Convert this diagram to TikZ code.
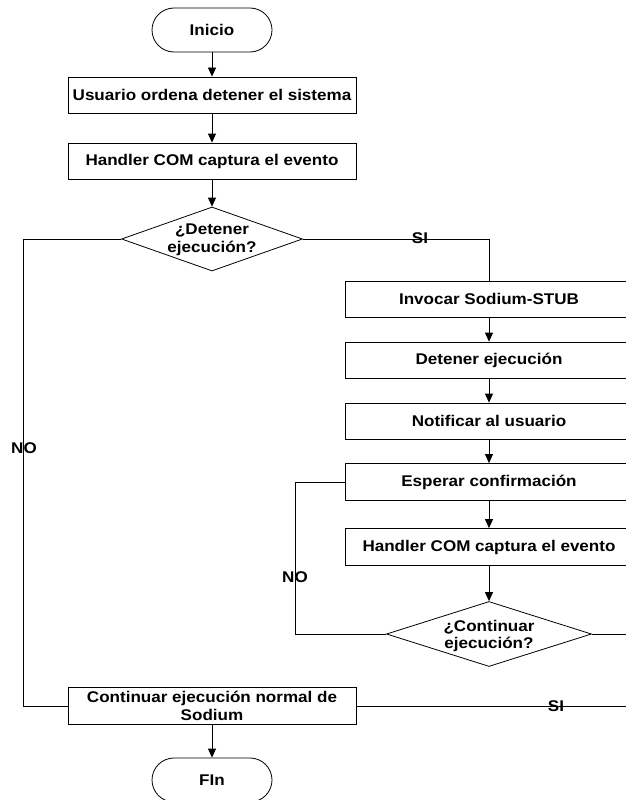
\documentclass[tikz,border=0pt]{standalone}
\usepackage{fontspec}
\setmainfont[FakeStretch=1.1]{Liberation Sans}
\usetikzlibrary{arrows.meta,shapes.geometric}
\begin{document}
\begin{tikzpicture}[x=1pt,y=-1pt,
  every node/.style={font=\fontsize{15.5}{17.5}\selectfont\bfseries, inner sep=0pt, align=center},
  box/.style={draw, line width=0.8pt, minimum width=288pt, minimum height=36pt},
  term/.style={draw, line width=0.8pt, rounded corners=22pt, minimum width=120pt, minimum height=44pt},
  dia/.style={draw, line width=0.8pt, shape=diamond},
  conn/.style={line width=0.8pt},
  arr/.style={line width=0.8pt, -{Triangle[length=9pt,width=8pt]}},
  lbl/.style={font=\fontsize{15.5}{17.5}\selectfont\bfseries}]
\clip (0,0) rectangle (626,800);
\useasboundingbox (0,0) rectangle (626,800);
% left column
\node[term] (ini) at (212,30) {Inicio};
\node[box] (b1) at (212,95) {Usuario ordena detener el sistema};
\node[box] (b2) at (212,161) {Handler COM captura el evento};
\node[dia, minimum width=181pt, minimum height=64pt] (d1) at (212,239) {};
\node at (212,240) {¿Detener\\ejecución?};
\node[box, minimum height=37pt] (cont) at (212,706) {Continuar ejecución normal de\\Sodium};
\node[term] (fin) at (212,780) {FIn};
% right column
\node[box] (r1) at (489,299) {Invocar Sodium-STUB};
\node[box] (r2) at (489,360) {Detener ejecución};
\node[box] (r3) at (489,421) {Notificar al usuario};
\node[box, minimum height=37pt] (r4) at (489,482) {Esperar confirmación};
\node[box, minimum height=37pt] (r5) at (489,547) {Handler COM captura el evento};
\node[dia, minimum width=205pt, minimum height=65pt] (d2) at (489,634) {};
\node at (489,636) {¿Continuar\\ejecución?};
% helper coordinates
\coordinate (nol) at (23,239);
\coordinate (nob) at (23,706);
\coordinate (sit) at (489,239);
\coordinate (no2t) at (295,482);
\coordinate (no2b) at (295,634);
\coordinate (si2a) at (650,634);
\coordinate (si2b) at (650,706);
% arrows
\draw[arr] (ini) -- (b1);
\draw[arr] (b1) -- (b2);
\draw[arr] (b2) -- (d1);
\draw[arr] (cont) -- (fin);
\draw[arr] (r1) -- (r2);
\draw[arr] (r2) -- (r3);
\draw[arr] (r3) -- (r4);
\draw[arr] (r4) -- (r5);
\draw[arr] (r5) -- (d2);
% branches
\draw[conn] (d1.west) -- (nol) -- (nob) -- (cont.west);
\draw[conn] (d1.east) -- (sit) -- (r1.north);
\draw[conn] (r4.west) -- (no2t) -- (no2b) -- (d2.west);
\draw[conn] (d2.east) -- (si2a) -- (si2b) -- (cont.east);
% labels
\node[lbl] at (24,448) {NO};
\node[lbl] at (420,238) {SI};
\node[lbl] at (295,577) {NO};
\node[lbl] at (556,706) {SI};
\end{tikzpicture}
\end{document}
